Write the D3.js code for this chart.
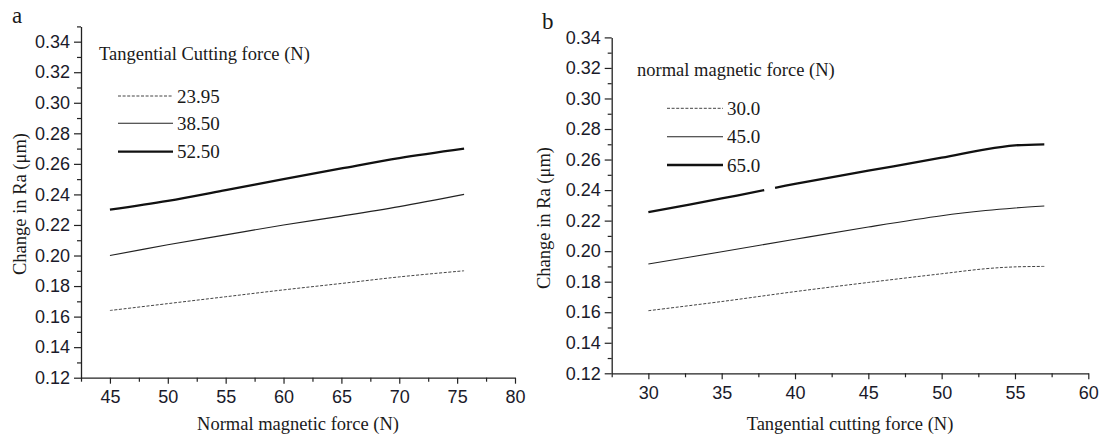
<!DOCTYPE html>
<html><head><meta charset="utf-8">
<script src="https://cdn.jsdelivr.net/npm/d3@7"></script>
<style>
body{margin:0;background:#fff;}
svg{display:block;}
.tick text{font-family:"Liberation Sans",Arial,sans-serif;font-size:18px;fill:#1a1a2a;}
.serif{font-family:"Liberation Serif","Times New Roman",serif;fill:#1a1a1a;}
</style></head>
<body>
<svg id="c" width="1106" height="439"></svg>
<script>
// ---- Panel a data: x = normal magnetic force (N), series = tangential cutting force (N)
const forceA = [45, 50, 55, 60, 65, 70, 75.6];
const raA_2395 = [0.164, 0.1685, 0.173, 0.1775, 0.1817, 0.186, 0.190];
const raA_3850 = [0.200, 0.207, 0.2135, 0.220, 0.2258, 0.232, 0.240];
const raA_5250 = [0.230, 0.2358, 0.2428, 0.2500, 0.2570, 0.2638, 0.2700];
const legendA = ["23.95", "38.50", "52.50"];
const xTicksA = [45, 50, 55, 60, 65, 70, 75, 80];

// ---- Panel b data: x = tangential cutting force (N), series = normal magnetic force (N)
const forceB = [30, 35, 40, 45, 50, 53, 55, 57];
const raB_30 = [0.161, 0.167, 0.1735, 0.1795, 0.1852, 0.1885, 0.1897, 0.190];
const raB_45 = [0.1916, 0.1996, 0.2078, 0.2158, 0.2232, 0.2266, 0.2283, 0.2296];
// thick curve has a small break in the original near x = 38.3
const forceB65 = [30, 35, 37.9, 38.3, 38.64, 40, 45, 50, 53, 55, 57];
const raB_65 = [0.2255, 0.2345, 0.2400, null, 0.2414, 0.2440, 0.2527, 0.2612, 0.2667, 0.2693, 0.2700];
const legendB = ["30.0", "45.0", "65.0"];
const xTicksB = [30, 35, 40, 45, 50, 55, 60];

const yTicks = [0.12, 0.14, 0.16, 0.18, 0.20, 0.22, 0.24, 0.26, 0.28, 0.30, 0.32, 0.34];

const svg = d3.select("#c");
const ink = "#222";

function styleAxis(g){
  g.select(".domain").attr("stroke", ink).attr("stroke-width", 1.3);
  g.selectAll(".tick line").attr("stroke", ink).attr("stroke-width", 1.2);
}

function panel(cfg){
  const x = d3.scaleLinear().domain(cfg.xDomain).range(cfg.xRange);
  const y = d3.scaleLinear().domain(cfg.yDomain).range(cfg.yRange);
  const y0 = cfg.yRange[0], x0 = cfg.xRange[0];

  // minor ticks
  const xMinor = d3.range(cfg.xDomain[0], cfg.xDomain[1] + 0.01, 2.5).filter(v => Math.abs(v % 5) > 0.01);
  const yMinor = d3.range(0.13, cfg.yDomain[1] + 0.0001, 0.02).map(v => +v.toFixed(2));
  svg.append("g").attr("transform", `translate(0,${y0})`)
    .call(d3.axisBottom(x).tickValues(xMinor).tickSize(4).tickFormat(""))
    .call(g => { g.select(".domain").remove(); g.selectAll(".tick line").attr("stroke", ink).attr("stroke-width",1.2); });
  svg.append("g").attr("transform", `translate(${x0},0)`)
    .call(d3.axisLeft(y).tickValues(yMinor).tickSize(4).tickFormat(""))
    .call(g => { g.select(".domain").remove(); g.selectAll(".tick line").attr("stroke", ink).attr("stroke-width",1.2); });

  // major axes
  svg.append("g").attr("transform", `translate(0,${y0})`)
    .call(d3.axisBottom(x).tickValues(cfg.xTicks).tickSize(6).tickSizeOuter(0).tickPadding(7).tickFormat(d3.format("d")))
    .call(styleAxis);
  svg.append("g").attr("transform", `translate(${x0},0)`)
    .call(d3.axisLeft(y).tickValues(yTicks.filter(v => v <= cfg.yDomain[1] + 1e-9)).tickSize(7).tickSizeOuter(0).tickPadding(4).tickFormat(d3.format(".2f")))
    .call(styleAxis);

  // curves
  const line = d3.line().defined(d => d[1] != null).x(d => x(d[0])).y(d => y(d[1])).curve(d3.curveCatmullRom.alpha(0.5));
  cfg.series.forEach(s => {
    svg.append("path")
      .datum(s.xs.map((v, i) => [v, s.ys[i]]))
      .attr("fill", "none").attr("stroke", s.color)
      .attr("stroke-width", s.w).attr("stroke-dasharray", s.dash || null)
      .attr("d", line);
  });

  // legend
  svg.append("text").attr("class", "serif").attr("x", cfg.legX).attr("y", cfg.legTitleY)
    .attr("font-size", 18.5).text(cfg.legTitle);
  cfg.series.forEach((s, i) => {
    const ly = cfg.legRows[i];
    svg.append("line").attr("x1", cfg.legLine[0]).attr("x2", cfg.legLine[1]).attr("y1", ly).attr("y2", ly)
      .attr("stroke", s.color).attr("stroke-width", s.w).attr("stroke-dasharray", s.dash || null);
    svg.append("text").attr("class", "serif").attr("x", cfg.legLine[1] + 4).attr("y", ly + 6.5)
      .attr("font-size", 19).text(cfg.legLabels[i]);
  });

  // axis titles
  svg.append("text").attr("class", "serif").attr("text-anchor", "middle")
    .attr("x", (cfg.xRange[0] + cfg.xRange[1]) / 2).attr("y", cfg.xTitleY)
    .attr("font-size", 18.5).text(cfg.xTitle);
  svg.append("text").attr("class", "serif").attr("text-anchor", "middle")
    .attr("transform", `translate(${cfg.yTitleX},${cfg.yTitleY}) rotate(-90)`)
    .attr("font-size", 18.5).text("Change in Ra (μm)");
  svg.append("text").attr("class", "serif").attr("x", cfg.labX).attr("y", cfg.labY)
    .attr("font-size", 23).text(cfg.lab);
}

const dashStyle = {color: "#444", w: 1.0, dash: "3,1.6"};
const thinStyle = {color: "#222", w: 1.1};
const thickStyle = {color: "#111", w: 2.3};

panel({
  xDomain: [42.5, 80], xRange: [81, 515],
  yDomain: [0.12, 0.35], yRange: [377.7, 26.4],
  xTicks: xTicksA,
  series: [
    Object.assign({xs: forceA, ys: raA_2395}, dashStyle),
    Object.assign({xs: forceA, ys: raA_3850}, thinStyle),
    Object.assign({xs: forceA, ys: raA_5250}, thickStyle)
  ],
  legX: 99, legTitleY: 59.5, legTitle: "Tangential Cutting force (N)",
  legRows: [96, 123.3, 151.7], legLine: [118, 173], legLabels: legendA,
  xTitle: "Normal magnetic force (N)", xTitleY: 429.5,
  yTitleX: 26, yTitleY: 204,
  lab: "a", labX: 12, labY: 23
});

panel({
  xDomain: [27.5, 60], xRange: [611.7, 1088.3],
  yDomain: [0.12, 0.34], yRange: [373.3, 37.4],
  xTicks: xTicksB,
  series: [
    Object.assign({xs: forceB, ys: raB_30}, dashStyle),
    Object.assign({xs: forceB, ys: raB_45}, thinStyle),
    Object.assign({xs: forceB65, ys: raB_65}, thickStyle)
  ],
  legX: 637, legTitleY: 76, legTitle: "normal magnetic force (N)",
  legRows: [108.3, 136.7, 165], legLine: [667, 723], legLabels: legendB,
  xTitle: "Tangential cutting force (N)", xTitleY: 430,
  yTitleX: 550, yTitleY: 218,
  lab: "b", labX: 542, labY: 29
});
</script>
</body></html>
